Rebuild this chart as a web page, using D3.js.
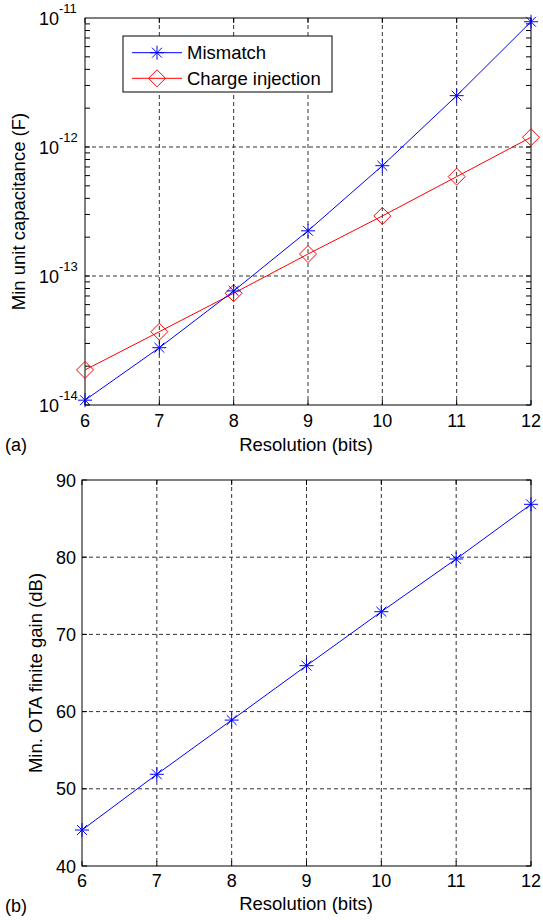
<!DOCTYPE html>
<html><head><meta charset="utf-8">
<script src="https://cdn.jsdelivr.net/npm/d3@7"></script>
<style>body{margin:0;background:#fff}svg{display:block}text{font-family:"Liberation Sans",Arial,sans-serif;fill:#000}</style>
</head><body>
<script>
const bits = [6, 7, 8, 9, 10, 11, 12];
const mismatch = [1.09e-14, 2.78e-14, 7.66e-14, 2.24e-13, 7.16e-13, 2.50e-12, 9.35e-12];
const chargeInjection = [1.87e-14, 3.70e-14, 7.35e-14, 1.48e-13, 2.92e-13, 5.89e-13, 1.19e-12];
const otaGain = [44.66, 51.88, 58.9, 65.95, 72.94, 79.77, 86.85];
const logTickExps = [-14, -13, -12, -11];
const gainTicks = [40, 50, 60, 70, 80, 90];
const seriesNames = ["Mismatch", "Charge injection"];

const W = 543, H = 920;
const svg = d3.select("body").append("svg").attr("width", W).attr("height", H);
const TL = 5;
const TICKFS = 18, LABFS = 18.5, LEGFS = 18.5;
const GRID = "#333", DASH = "4,3";

function starPath(s){
  const d = s*0.7071;
  return `M${-s},0L${s},0M0,${-s}L0,${s}M${-d},${-d}L${d},${d}M${-d},${d}L${d},${-d}`;
}
function diamondPath(s){ return `M0,${-s}L${s},0L0,${s}L${-s},0Z`; }

function frame(g, L, R, T, B){
  g.append("rect").attr("x", L).attr("y", T).attr("width", R-L).attr("height", B-T)
    .attr("fill","none").attr("stroke","#000").attr("stroke-width",1);
}

// ---------- Top plot ----------
{
  const L = 85, R = 531, T = 18, B = 405;
  const x = d3.scaleLinear().domain([6,12]).range([L,R]);
  const y = d3.scaleLog().domain([1e-14,1e-11]).range([B,T]);
  const g = svg.append("g");
  bits.filter(b=>b>6&&b<12).forEach(b=>{
    g.append("line").attr("x1",x(b)).attr("x2",x(b)).attr("y1",T).attr("y2",B)
     .attr("stroke",GRID).attr("stroke-dasharray",DASH).attr("stroke-width",1);
  });
  logTickExps.slice(1,-1).forEach(e=>{
    g.append("line").attr("x1",L).attr("x2",R).attr("y1",y(Math.pow(10,e))).attr("y2",y(Math.pow(10,e)))
     .attr("stroke",GRID).attr("stroke-dasharray",DASH).attr("stroke-width",1);
  });
  bits.forEach(b=>{
    g.append("line").attr("x1",x(b)).attr("x2",x(b)).attr("y1",B).attr("y2",B-TL).attr("stroke","#000");
    g.append("line").attr("x1",x(b)).attr("x2",x(b)).attr("y1",T).attr("y2",T+TL).attr("stroke","#000");
    g.append("text").attr("x",x(b)).attr("y",B+22).attr("text-anchor","middle").attr("font-size",TICKFS).text(b);
  });
  for(let e=-14;e<-11;e++){
    for(let m=1;m<10;m++){
      const yy = y(m*Math.pow(10,e));
      g.append("line").attr("x1",L).attr("x2",L+TL).attr("y1",yy).attr("y2",yy).attr("stroke","#000");
      g.append("line").attr("x1",R).attr("x2",R-TL).attr("y1",yy).attr("y2",yy).attr("stroke","#000");
    }
  }
  logTickExps.forEach(e=>{
    const yy = y(Math.pow(10,e));
    g.append("text").attr("x",L-26).attr("y",yy+7).attr("text-anchor","end").attr("font-size",TICKFS).text("10");
    g.append("text").attr("x",L-26).attr("y",yy-5).attr("font-size",13).text(String(e));
  });
  frame(g,L,R,T,B);
  const line = d3.line().x((d,i)=>x(bits[i])).y(d=>y(d));
  g.append("path").datum(chargeInjection).attr("d",line).attr("fill","none").attr("stroke","#ff0000").attr("stroke-width",1);
  g.append("path").datum(mismatch).attr("d",line).attr("fill","none").attr("stroke","#0000ff").attr("stroke-width",1);
  chargeInjection.forEach((v,i)=>{
    g.append("path").attr("d",diamondPath(8.5)).attr("transform",`translate(${x(bits[i])},${y(v)})`)
     .attr("fill","none").attr("stroke","#ff0000").attr("stroke-width",1);
  });
  mismatch.forEach((v,i)=>{
    g.append("path").attr("d",starPath(7)).attr("transform",`translate(${x(bits[i])},${y(v)})`)
     .attr("fill","none").attr("stroke","#0000ff").attr("stroke-width",1);
  });
  g.append("text").attr("x",306).attr("y",451).attr("text-anchor","middle").attr("font-size",LABFS).text("Resolution (bits)");
  g.append("text").attr("x",5).attr("y",451).attr("font-size",TICKFS).text("(a)");
  g.append("text").attr("transform",`translate(25,${(T+B)/2}) rotate(-90)`).attr("text-anchor","middle").attr("font-size",LABFS).text("Min unit capacitance (F)");
  const lg = g.append("g");
  lg.append("rect").attr("x",123).attr("y",36).attr("width",209).attr("height",56).attr("fill","#fff").attr("stroke","#000");
  const lys = [52.7, 78.3];
  lg.append("line").attr("x1",132).attr("x2",182).attr("y1",lys[0]).attr("y2",lys[0]).attr("stroke","#0000ff");
  lg.append("path").attr("d",starPath(7)).attr("transform",`translate(157,${lys[0]})`).attr("fill","none").attr("stroke","#0000ff");
  lg.append("line").attr("x1",132).attr("x2",182).attr("y1",lys[1]).attr("y2",lys[1]).attr("stroke","#ff0000");
  lg.append("path").attr("d",diamondPath(8.5)).attr("transform",`translate(157,${lys[1]})`).attr("fill","none").attr("stroke","#ff0000");
  seriesNames.forEach((n,i)=>{
    lg.append("text").attr("x",187).attr("y",lys[i]+6.5).attr("font-size",LEGFS).text(n);
  });
}

// ---------- Bottom plot ----------
{
  const L = 82, R = 531, T = 480, B = 866;
  const x = d3.scaleLinear().domain([6,12]).range([L,R]);
  const y = d3.scaleLinear().domain([40,90]).range([B,T]);
  const g = svg.append("g");
  bits.filter(b=>b>6&&b<12).forEach(b=>{
    g.append("line").attr("x1",x(b)).attr("x2",x(b)).attr("y1",T).attr("y2",B)
     .attr("stroke",GRID).attr("stroke-dasharray",DASH);
  });
  gainTicks.filter(v=>v>40&&v<90).forEach(v=>{
    g.append("line").attr("x1",L).attr("x2",R).attr("y1",y(v)).attr("y2",y(v))
     .attr("stroke",GRID).attr("stroke-dasharray",DASH);
  });
  bits.forEach(b=>{
    g.append("line").attr("x1",x(b)).attr("x2",x(b)).attr("y1",B).attr("y2",B-TL).attr("stroke","#000");
    g.append("line").attr("x1",x(b)).attr("x2",x(b)).attr("y1",T).attr("y2",T+TL).attr("stroke","#000");
    g.append("text").attr("x",x(b)).attr("y",B+21).attr("text-anchor","middle").attr("font-size",TICKFS).text(b);
  });
  gainTicks.forEach(v=>{
    g.append("line").attr("x1",L).attr("x2",L+TL).attr("y1",y(v)).attr("y2",y(v)).attr("stroke","#000");
    g.append("line").attr("x1",R).attr("x2",R-TL).attr("y1",y(v)).attr("y2",y(v)).attr("stroke","#000");
    g.append("text").attr("x",L-6).attr("y",y(v)+6.5).attr("text-anchor","end").attr("font-size",TICKFS).text(v);
  });
  frame(g,L,R,T,B);
  const line = d3.line().x((d,i)=>x(bits[i])).y(d=>y(d));
  g.append("path").datum(otaGain).attr("d",line).attr("fill","none").attr("stroke","#0000ff");
  otaGain.forEach((v,i)=>{
    g.append("path").attr("d",starPath(7)).attr("transform",`translate(${x(bits[i])},${y(v)})`)
     .attr("fill","none").attr("stroke","#0000ff");
  });
  g.append("text").attr("x",306).attr("y",910).attr("text-anchor","middle").attr("font-size",LABFS).text("Resolution (bits)");
  g.append("text").attr("x",5).attr("y",912).attr("font-size",TICKFS).text("(b)");
  g.append("text").attr("transform",`translate(42,${(T+B)/2}) rotate(-90)`).attr("text-anchor","middle").attr("font-size",LABFS).text("Min. OTA finite gain (dB)");
}
</script>
</body></html>
